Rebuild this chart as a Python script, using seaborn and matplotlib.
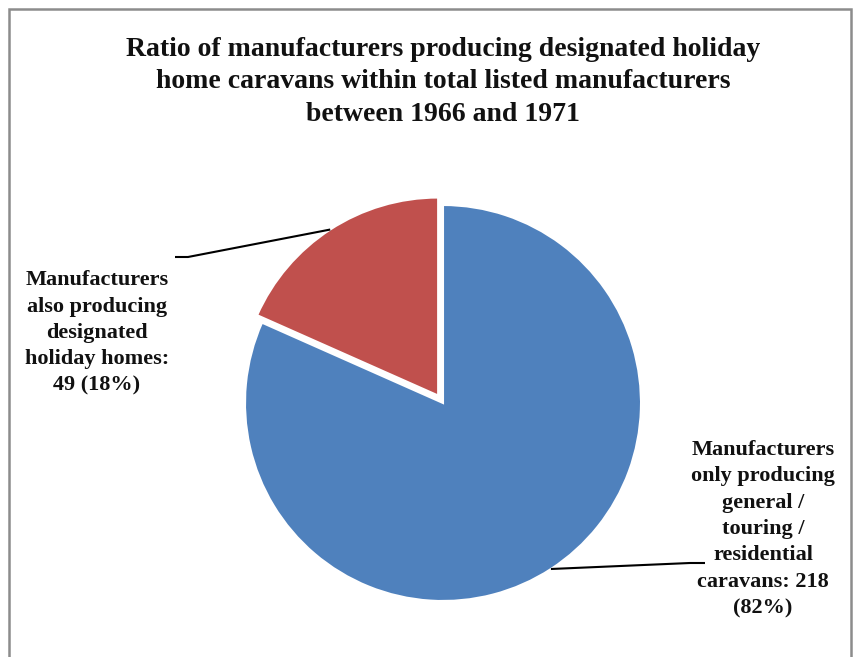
import numpy as np
import matplotlib
matplotlib.use("Agg")
import matplotlib.pyplot as plt
import seaborn as sns
from matplotlib.patches import Rectangle

categories = [
    "Manufacturers only producing general / touring / residential caravans",
    "Manufacturers also producing designated holiday homes",
]
counts = [218, 49]
label_texts = [
    "Manufacturers\nonly producing\ngeneral /\ntouring /\nresidential\ncaravans: 218\n(82%)",
    "Manufacturers\nalso producing\ndesignated\nholiday homes:\n49 (18%)",
]
colors = ["#4F81BD", "#C0504D"]
title = ("Ratio of manufacturers producing designated holiday\n"
         "home caravans within total listed manufacturers\n"
         "between 1966 and 1971")

sns.set_theme(style="white")
plt.rcParams["font.family"] = ["Liberation Serif", "DejaVu Serif"]

W, H = 857, 657
fig = plt.figure(figsize=(W / 100, H / 100), dpi=100)
fig.patch.set_facecolor("white")

# pie centre at pixel (443, 403), radius 198 px
cx, cy, R = 443, 403, 198
ax = fig.add_axes([0, 0, 1, 1])

wedges, _ = ax.pie(counts, colors=colors, startangle=90, counterclock=False,
                   explode=[0, 0.045], radius=1,
                   wedgeprops=dict(edgecolor="white", linewidth=1.5))
ax.set_xlim((0 - cx) / R, (W - cx) / R)
ax.set_ylim((cy - H) / R, cy / R)
ax.set_aspect("equal", adjustable="box")
ax.axis("off")

def px2d(px, py):
    return ((px - cx) / R, (cy - py) / R)

# label placements (pixel centres) and leader elbows
label_pos = [(763, 529), (97, 333)]
elbows = [[(705, 563), (690, 563)], [(175, 257), (188, 257)]]

for w, txt, pos, elb in zip(wedges, label_texts, label_pos, elbows):
    ang = np.deg2rad((w.theta1 + w.theta2) / 2)
    c = w.center
    ex, ey = c[0] + w.r * np.cos(ang), c[1] + w.r * np.sin(ang)
    pts = [px2d(*p) for p in elb] + [(ex, ey)]
    ax.plot([p[0] for p in pts], [p[1] for p in pts], color="black", lw=1.5,
            solid_capstyle="butt")
    tx, ty = px2d(*pos)
    ax.text(tx, ty, txt, ha="center", va="center", fontsize=16,
            fontweight="bold", linespacing=1.43, color="#111111")

fig.text(443 / W, 1 - 82 / H, title, ha="center", va="center", fontsize=20,
         fontweight="bold", linespacing=1.38, color="#111111")

fig.patches.append(Rectangle((8.5 / W, -0.1), (851 - 8.5) / W, 1.1 - 8.5 / H,
                             transform=fig.transFigure, fill=False,
                             edgecolor="#8c8c8c", linewidth=1.8))

fig.savefig("out.png", dpi=100)
